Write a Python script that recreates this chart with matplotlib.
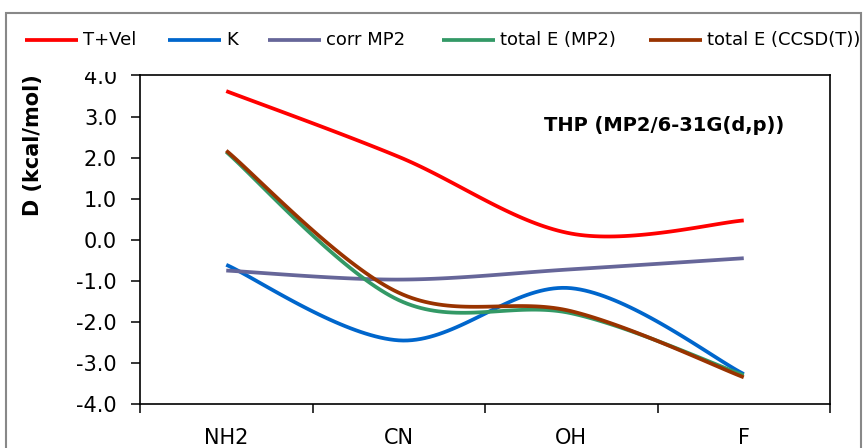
import numpy as np
import matplotlib.pyplot as plt
from matplotlib.patches import Rectangle
from matplotlib.lines import Line2D

plt.rcParams['font.family'] = ['DejaVu Sans']

# 数据
groups = ['NH2', 'CN', 'OH', 'F']
t_vel = [3.62, 2.02, 0.15, 0.47]
k_val = [-0.61, -2.45, -1.18, -3.27]
corr_mp2 = [-0.75, -0.97, -0.72, -0.45]
tot_mp2 = [2.14, -1.47, -1.79, -3.30]
tot_ccsd = [2.17, -1.29, -1.74, -3.35]

names = ['T+Vel', 'K', 'corr MP2', 'total E (MP2)', 'total E (CCSD(T))']
colors = ['#ff0000', '#0066cc', '#666699', '#339966', '#993300']
series = [t_vel, k_val, corr_mp2, tot_mp2, tot_ccsd]

W, H = 867, 448


# Excel 风格的平滑曲线 (Bezier)
def smooth(xp, yp, sx=172.5, sy=41.06, n=40):
    pts = np.column_stack([np.asarray(xp, float) * sx, np.asarray(yp, float) * sy])
    m = len(pts)
    xs, ys = [], []
    t = np.linspace(0, 1, n)[:, None]
    for i in range(m - 1):
        p0 = pts[max(i - 1, 0)]
        p1 = pts[i]
        p2 = pts[i + 1]
        p3 = pts[min(i + 2, m - 1)]
        d02 = np.linalg.norm(p2 - p0)
        d12 = np.linalg.norm(p2 - p1)
        d13 = np.linalg.norm(p3 - p1)
        f = min(1 / 6, d12 / (2 * d02)) if d02 > 0 else 0
        g = min(1 / 6, d12 / (2 * d13)) if d13 > 0 else 0
        c1 = p1 + f * (p2 - p0)
        c2 = p2 - g * (p3 - p1)
        b = (1 - t) ** 3 * p1 + 3 * (1 - t) ** 2 * t * c1 + 3 * (1 - t) * t ** 2 * c2 + t ** 3 * p2
        if i > 0:
            b = b[1:]
        xs.append(b[:, 0])
        ys.append(b[:, 1])
    return np.concatenate(xs) / sx, np.concatenate(ys) / sy


fig = plt.figure(figsize=(W / 100, H / 100), dpi=100)
ax = fig.add_axes([140 / W, 1 - 404 / H, 690 / W, (404 - 75.5) / H])

x = np.arange(len(groups))
for vals, c in zip(series, colors):
    sxv, syv = smooth(x, vals)
    ax.plot(sxv, syv, color=c, lw=2.7, solid_capstyle='butt', solid_joinstyle='round')

ax.set_xlim(-0.5, 3.5)
ax.set_ylim(-4, 4)

yt = np.arange(-4, 4.01, 1)
ax.set_yticks(yt)
ax.set_yticklabels([f'{v:.1f}' for v in yt], fontsize=15)
ax.tick_params(axis='y', direction='out', length=6.5, width=1.1, pad=10)

ax.set_xticks(x)
ax.set_xticklabels(groups, fontsize=15)
ax.set_xticks(np.arange(-0.5, 3.6, 1), minor=True)
ax.tick_params(axis='x', which='major', length=0, pad=17)
ax.tick_params(axis='x', which='minor', direction='out', length=6.5, width=1.1)

for s in ax.spines.values():
    s.set_linewidth(1.2)
    s.set_color('black')

fig.text(33 / W, 1 - 145 / H, 'D (kcal/mol)', rotation=90, ha='center', va='center',
         fontsize=15, fontweight='bold')
fig.text(664 / W, 1 - 125 / H, 'THP (MP2/6-31G(d,p))', ha='center', va='center',
         fontsize=14, fontweight='bold')

# 图例区域（白底）
fig.add_artist(Rectangle((6 / W, 1 - 72 / H), 855 / W, (72 - 13) / H,
                         transform=fig.transFigure, facecolor='white', edgecolor='none', zorder=3))

leg_x = [25, 168, 268, 442, 649]
ly = 1 - 40 / H
for x0, name, c in zip(leg_x, names, colors):
    fig.add_artist(Line2D([x0 / W, (x0 + 53) / W], [ly, ly], color=c, lw=2.7,
                          solid_capstyle='butt', transform=fig.transFigure, zorder=5))
    fig.text((x0 + 58) / W, ly, name, ha='left', va='center', fontsize=13, zorder=5)

# 外框
fig.add_artist(Rectangle((6 / W, -0.05), 855 / W, 1 - 13 / H + 0.05, transform=fig.transFigure,
                         fill=False, edgecolor='#888888', lw=1.5, zorder=6))

fig.savefig('out.png', dpi=100)
